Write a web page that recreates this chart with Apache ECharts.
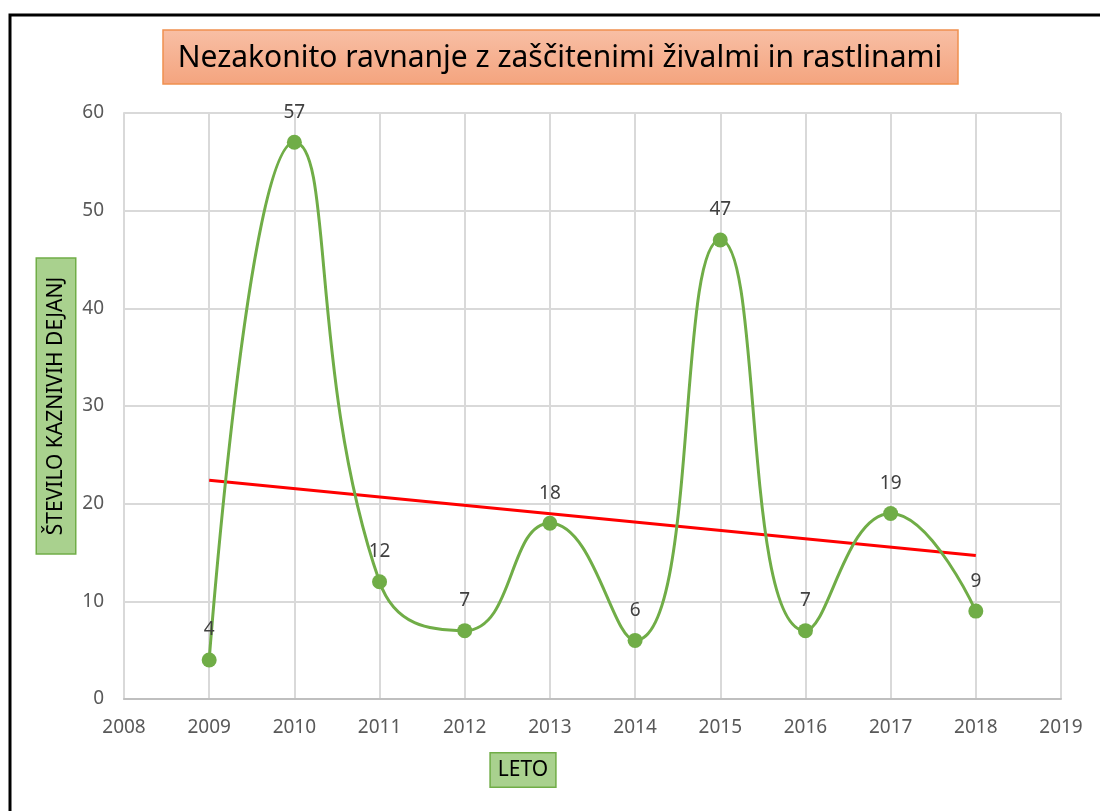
<!DOCTYPE html>
<html>
<head>
<meta charset="utf-8">
<script src="https://cdn.jsdelivr.net/npm/echarts@6/dist/echarts.min.js"></script>
<style>
  html, body { margin: 0; padding: 0; background: #fff; }
  #chart { width: 1100px; height: 811px; }
</style>
</head>
<body>
<div id="chart"></div>
<script>
// data
var years = [2009, 2010, 2011, 2012, 2013, 2014, 2015, 2016, 2017, 2018];
var counts = [4, 57, 12, 7, 18, 6, 47, 7, 19, 9];
var trendYears = [2009, 2018];
var trendValues = [22.4, 14.7];

var titleText = 'Nezakonito ravnanje z zaščitenimi živalmi in rastlinami';
var yName = 'ŠTEVILO KAZNIVIH DEJANJ';
var xName = 'LETO';

var font = '"Noto Sans", "Open Sans", sans-serif';

var chart = echarts.init(document.getElementById('chart'));

var lineData = years.map(function(y, i) { return [y, counts[i]]; });
var trendData = trendYears.map(function(y, i) { return [y, trendValues[i]]; });

var option = {
    animation: false,
    textStyle: { fontFamily: font },
    grid: { left: 124, right: 39, top: 113, bottom: 112 },
    graphic: [{
        type: 'rect',
        shape: { x: 10, y: 15, width: 1100, height: 820 },
        style: { fill: 'none', stroke: '#000', lineWidth: 3 },
        z: 0
    }, {
        type: 'rect',
        shape: { x: 163, y: 30, width: 795, height: 54 },
        style: {
            fill: new echarts.graphic.LinearGradient(0, 0, 0, 1, [
                { offset: 0, color: '#f8bfa5' },
                { offset: 1, color: '#f4a47e' }
            ]),
            stroke: '#f0904f',
            lineWidth: 1.5
        },
        z: 10
    }, {
        type: 'text',
        x: 560, y: 58,
        style: {
            text: titleText,
            font: '30px ' + font,
            fill: '#000',
            align: 'center',
            verticalAlign: 'middle'
        },
        z: 11
    }, {
        // x axis name box sits left of the plot centre, as in the source
        type: 'text',
        x: 523, y: 770,
        style: {
            text: xName,
            font: '21px ' + font,
            fill: '#000',
            align: 'center',
            verticalAlign: 'middle',
            backgroundColor: '#a9d18e',
            borderColor: '#70ad47',
            borderWidth: 1.5,
            padding: [7, 7, 5, 7]
        },
        z: 11
    }],
    xAxis: {
        type: 'value',
        min: 2008,
        max: 2019,
        interval: 1,
        axisLine: { show: true, lineStyle: { color: '#bfbfbf', width: 2 } },
        axisTick: { show: false },
        axisLabel: {
            fontSize: 19,
            color: '#595959',
            margin: 19,
            formatter: function(v) { return String(v); }
        },
        splitLine: { show: true, lineStyle: { color: '#d9d9d9', width: 2 } }
    },
    yAxis: {
        type: 'value',
        min: 0,
        max: 60,
        interval: 10,
        name: yName,
        nameLocation: 'middle',
        nameRotate: 90,
        nameGap: 49,
        nameMoveOverlap: false,
        nameTextStyle: {
            fontSize: 21,
            color: '#000',
            lineHeight: 26,
            backgroundColor: '#a9d18e',
            borderColor: '#70ad47',
            borderWidth: 1.5,
            padding: [6, 18, 6, 18]
        },
        axisLine: { show: true, lineStyle: { color: '#d9d9d9', width: 2 } },
        axisTick: { show: false },
        axisLabel: { fontSize: 19, color: '#595959', margin: 20 },
        splitLine: { show: true, lineStyle: { color: '#d9d9d9', width: 2 } }
    },
    series: [{
        type: 'line',
        data: trendData,
        symbol: 'none',
        lineStyle: { color: '#ff0000', width: 3 },
        z: 2
    }, {
        type: 'line',
        data: lineData,
        smooth: 0.5,
        symbol: 'circle',
        symbolSize: 15,
        itemStyle: { color: '#70ad47' },
        lineStyle: { color: '#70ad47', width: 3 },
        label: {
            show: true,
            position: 'top',
            distance: 13,
            fontSize: 19,
            color: '#404040',
            formatter: function(p) { return p.value[1]; }
        },
        z: 3
    }]
};
chart.setOption(option);
</script>
</body>
</html>
